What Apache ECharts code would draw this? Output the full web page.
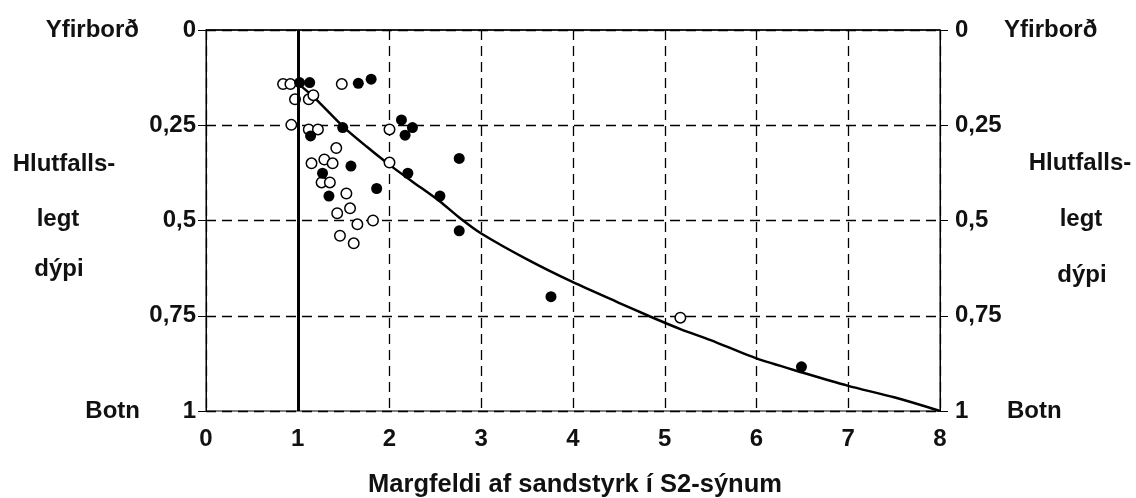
<!DOCTYPE html>
<html>
<head>
<meta charset="utf-8">
<script src="https://cdn.jsdelivr.net/npm/echarts@6/dist/echarts.min.js"></script>
<style>
html,body{margin:0;padding:0;background:#fff;}
#chart{width:1136px;height:498px;}
</style>
</head>
<body>
<div id="chart"></div>
<script>
// ---- data ----
const xTicks = [0, 1, 2, 3, 4, 5, 6, 7, 8];
const yTicks = [0, 0.25, 0.5, 0.75, 1];
const referenceLineX = 1;

const openX = [0.84, 0.92, 0.97, 1.12, 1.17, 1.48, 0.93, 1.12, 1.22, 2.00, 1.42, 1.15, 1.29, 1.38, 2.00, 1.26, 1.35, 1.53, 1.57, 1.43, 1.65, 1.82, 1.46, 1.61, 5.17];
const openY = [0.142, 0.142, 0.182, 0.182, 0.171, 0.142, 0.249, 0.261, 0.261, 0.261, 0.310, 0.350, 0.340, 0.350, 0.348, 0.400, 0.400, 0.429, 0.468, 0.481, 0.510, 0.500, 0.540, 0.560, 0.755];

const filledX = [1.02, 1.13, 1.66, 1.80, 2.13, 2.25, 2.17, 1.49, 1.14, 1.58, 1.27, 2.20, 2.76, 1.86, 1.34, 2.55, 2.76, 3.76, 6.49];
const filledY = [0.138, 0.138, 0.140, 0.129, 0.236, 0.256, 0.276, 0.256, 0.278, 0.357, 0.376, 0.376, 0.337, 0.416, 0.436, 0.436, 0.527, 0.700, 0.884];

const curveX = [1.00, 1.17, 1.50, 1.75, 2.00, 2.25, 2.55, 2.77, 3.00, 3.50, 4.00, 4.50, 4.84, 5.17, 5.50, 6.00, 6.50, 7.00, 7.50, 8.00];
const curveY = [0.140, 0.175, 0.255, 0.306, 0.354, 0.398, 0.450, 0.494, 0.534, 0.602, 0.662, 0.716, 0.752, 0.785, 0.814, 0.862, 0.899, 0.934, 0.964, 1.000];

const xTitle = 'Margfeldi af sandstyrk í S2-sýnum';
const sideTexts = { top: 'Yfirborð', bottom: 'Botn', line1: 'Hlutfalls-', line2: 'legt', line3: 'dýpi' };

// ---- chart ----
const zip = (a, b) => a.map((v, i) => [v, b[i]]);
const FONT = '"Liberation Sans", Arial, sans-serif';
const txt = (text, x, y, align, size) => ({
  type: 'text', x: x, y: y, silent: true,
  style: { text: text, fontSize: size || 24, fontWeight: 'bold', fontFamily: FONT, fill: '#111', align: align, verticalAlign: 'middle' }
});
const fmt = v => String(v).replace('.', ',');
const dash = { color: '#000', type: [10, 6], width: 1.3 };

const yAxisBase = {
  type: 'value', inverse: true, min: yTicks[0], max: yTicks[yTicks.length - 1], interval: 0.25,
  axisLine: { show: true, lineStyle: { color: '#000', width: 1 } },
  axisTick: { show: true, length: 8, lineStyle: { color: '#000', width: 1 } },
  axisLabel: { fontSize: 24, fontWeight: 'bold', fontFamily: FONT, color: '#111', formatter: fmt }
};

const chart = echarts.init(document.getElementById('chart'), null, { renderer: 'canvas' });
chart.setOption({
  animation: false,
  backgroundColor: '#fff',
  grid: { left: 206, right: 196, top: 30, bottom: 87, show: true, borderColor: '#000', borderWidth: 1 },
  xAxis: {
    type: 'value', min: xTicks[0], max: xTicks[xTicks.length - 1], interval: 1,
    axisLine: { show: true, lineStyle: { color: '#000', width: 1.5 } },
    axisTick: { show: true, length: 8, lineStyle: { color: '#000', width: 1 } },
    axisLabel: { fontSize: 24, fontWeight: 'bold', fontFamily: FONT, color: '#111', margin: 16 },
    splitLine: { show: true, lineStyle: dash }
  },
  yAxis: [
    Object.assign({}, yAxisBase, { position: 'left', axisLabel: Object.assign({}, yAxisBase.axisLabel, { margin: 10 }), splitLine: { show: true, lineStyle: dash } }),
    Object.assign({}, yAxisBase, { position: 'right', axisLabel: Object.assign({}, yAxisBase.axisLabel, { margin: 15 }), splitLine: { show: false } })
  ],
  series: [
    {
      type: 'line', z: 3, data: zip(curveX, curveY), smooth: 0.25,
      showSymbol: false, symbol: 'none', lineStyle: { color: '#000', width: 2.5 },
      markLine: {
        silent: true, symbol: ['none', 'none'], label: { show: false },
        lineStyle: { color: '#000', width: 3, type: 'solid' },
        data: [{ xAxis: referenceLineX }]
      }
    },
    {
      type: 'scatter', z: 4, data: zip(openX, openY), symbol: 'circle', symbolSize: 10.5,
      itemStyle: { color: '#fff', borderColor: '#000', borderWidth: 1.5, opacity: 1 }
    },
    {
      type: 'scatter', z: 5, data: zip(filledX, filledY), symbol: 'circle', symbolSize: 11,
      itemStyle: { color: '#000', opacity: 1 }
    }
  ],
  graphic: [
    txt(sideTexts.top, 139, 30, 'right'),
    txt(sideTexts.line1, 64, 164, 'center'),
    txt(sideTexts.line2, 58, 219, 'center'),
    txt(sideTexts.line3, 59, 269, 'center'),
    txt(sideTexts.bottom, 140, 411, 'right'),
    txt(sideTexts.top, 1004, 30, 'left'),
    txt(sideTexts.line1, 1080, 163, 'center'),
    txt(sideTexts.line2, 1081, 219, 'center'),
    txt(sideTexts.line3, 1082, 275, 'center'),
    txt(sideTexts.bottom, 1007, 411, 'left'),
    txt(xTitle, 575, 485, 'center', 25.5)
  ]
});
</script>
</body>
</html>
